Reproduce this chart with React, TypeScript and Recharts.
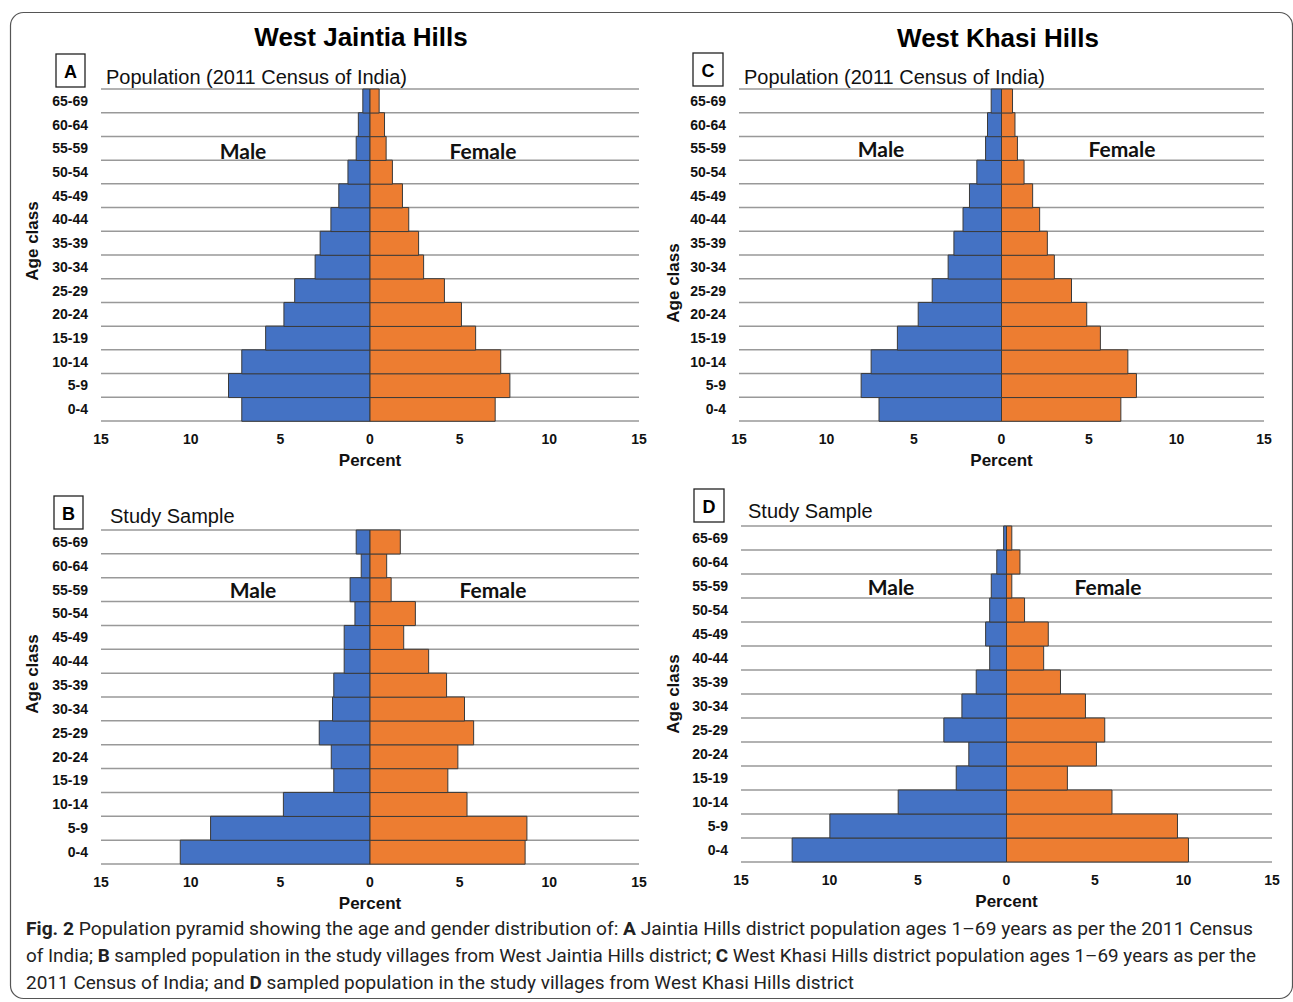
import React from "react";
import { Bar, BarChart, CartesianGrid, Label, XAxis, YAxis } from "recharts";

const ageGroups = ["0-4", "5-9", "10-14", "15-19", "20-24", "25-29", "30-34", "35-39", "40-44", "45-49", "50-54", "55-59", "60-64", "65-69"];
const percentTicks = [-15, -10, -5, 0, 5, 10, 15];

// A - West Jaintia Hills, 2011 census
const jaintiaCensusMale = [7.15, 7.89, 7.15, 5.82, 4.8, 4.2, 3.06, 2.78, 2.18, 1.74, 1.23, 0.77, 0.65, 0.4];
const jaintiaCensusFemale = [6.98, 7.8, 7.29, 5.89, 5.1, 4.15, 2.99, 2.71, 2.16, 1.81, 1.25, 0.9, 0.81, 0.51];
// B - West Jaintia Hills, study sample
const jaintiaSampleMale = [10.58, 8.89, 4.83, 2.02, 2.16, 2.83, 2.09, 2.02, 1.44, 1.44, 0.84, 1.11, 0.49, 0.77];
const jaintiaSampleFemale = [8.65, 8.75, 5.41, 4.34, 4.9, 5.78, 5.27, 4.27, 3.27, 1.88, 2.53, 1.18, 0.93, 1.69];
// C - West Khasi Hills, 2011 census
const khasiCensusMale = [7.0, 8.02, 7.45, 5.95, 4.76, 3.96, 3.05, 2.72, 2.2, 1.83, 1.41, 0.91, 0.8, 0.59];
const khasiCensusFemale = [6.82, 7.71, 7.22, 5.65, 4.87, 4.0, 3.02, 2.62, 2.18, 1.78, 1.29, 0.91, 0.77, 0.63];
// D - West Khasi Hills, study sample
const khasiSampleMale = [12.11, 9.98, 6.12, 2.84, 2.13, 3.54, 2.52, 1.71, 0.95, 1.18, 0.95, 0.86, 0.55, 0.16];
const khasiSampleFemale = [10.28, 9.66, 5.96, 3.44, 5.08, 5.55, 4.46, 3.05, 2.1, 2.36, 1.02, 0.3, 0.76, 0.3];

const BLUE = "#4472C4";
const ORANGE = "#ED7D31";
const AXIS_FONT = "'Liberation Sans', Arial, sans-serif";

function Pyramid({ male, female, left, top, width, height, ageX, ageDy }: any) {
  const rows = ageGroups.map((age, i) => ({ age, male: -male[i], female: female[i] }));
  const bands = (p: any) => {
    const o = p.offset;
    return Array.from({ length: ageGroups.length + 1 }, (_, i) => o.top + (i * o.height) / ageGroups.length);
  };
  return (
    <div style={{ position: "absolute", left, top }}>
      <BarChart
        width={width}
        height={height}
        data={rows}
        layout="vertical"
        stackOffset="sign"
        barCategoryGap={0}
        margin={{ top: 29, right: 10, bottom: 0, left: 0 }}
      >
        <CartesianGrid vertical={false} stroke="#999" strokeWidth={1.5} horizontalCoordinatesGenerator={bands} />
        <XAxis
          type="number"
          domain={[-15, 15]}
          ticks={percentTicks}
          tickFormatter={(v: number) => String(Math.abs(v))}
          axisLine={false}
          tickLine={false}
          tickMargin={7}
          height={52}
          tick={{ fill: "#111", fontSize: 14, fontWeight: 700, fontFamily: AXIS_FONT }}
        >
          <Label value="Percent" position="insideBottom" offset={7} style={{ fill: "#111", fontSize: 17, fontWeight: 700, fontFamily: AXIS_FONT }} />
        </XAxis>
        <YAxis
          type="category"
          dataKey="age"
          reversed
          interval={0}
          width={101}
          axisLine={false}
          tickLine={false}
          tickMargin={7}
          tick={{ fill: "#111", fontSize: 14, fontWeight: 700, fontFamily: AXIS_FONT }}
        >
          <Label
            content={(p: any) => {
              const vb = p.viewBox;
              const cx = vb.x + ageX;
              const cy = vb.y + vb.height / 2 + ageDy;
              return (
                <text x={cx} y={cy} transform={`rotate(-90 ${cx} ${cy})`} textAnchor="middle" dominantBaseline="central"
                  style={{ fill: "#111", fontSize: 17, fontWeight: 700, fontFamily: AXIS_FONT }}>
                  Age class
                </text>
              );
            }}
          />
        </YAxis>
        <Bar dataKey="male" stackId="p" fill={BLUE} stroke="#3a3a3a" strokeWidth={1} isAnimationActive={false} />
        <Bar dataKey="female" stackId="p" fill={ORANGE} stroke="#3a3a3a" strokeWidth={1} isAnimationActive={false} />
      </BarChart>
    </div>
  );
}

function PanelText({ letter, bx, by, bw, bh, sub, sx, sy, mx, fx, gy }: any) {
  return (
    <g>
      <rect x={bx} y={by} width={bw} height={bh} fill="#fff" stroke="#222" strokeWidth={1.3} />
      <text x={bx + bw / 2} y={by + bh / 2 + 1} textAnchor="middle" dominantBaseline="central" fontSize={18} fontWeight={700} fontFamily={AXIS_FONT}>{letter}</text>
      <text x={sx} y={sy} dominantBaseline="central" fontSize={20} fontFamily={AXIS_FONT} fill="#111">{sub}</text>
      <text x={mx} y={gy} textAnchor="middle" dominantBaseline="central" fontSize={21} fontWeight={700} fontFamily="Lato, 'Open Sans', sans-serif" fill="#111">Male</text>
      <text x={fx} y={gy} textAnchor="middle" dominantBaseline="central" fontSize={21} fontWeight={700} fontFamily="Lato, 'Open Sans', sans-serif" fill="#111">Female</text>
    </g>
  );
}

const CAP_FONT = "'Liberation Sans Narrow', 'Roboto', sans-serif";

export default function App() {
  return (
    <div style={{ position: "absolute", left: 0, top: 0, width: 1293, height: 1002, background: "#fff", overflow: "hidden" }}>
      <Pyramid male={jaintiaCensusMale} female={jaintiaCensusFemale} left={0} top={60} width={649} height={413} ageX={32} ageDy={-14} />
      <Pyramid male={khasiCensusMale} female={khasiCensusFemale} left={638} top={60} width={636} height={413} ageX={35} ageDy={28} />
      <Pyramid male={jaintiaSampleMale} female={jaintiaSampleFemale} left={0} top={501} width={649} height={415} ageX={32} ageDy={-23} />
      <Pyramid male={khasiSampleMale} female={khasiSampleFemale} left={640} top={497} width={642} height={417} ageX={33} ageDy={0} />
      <svg width={1293} height={1002} style={{ position: "absolute", left: 0, top: 0, pointerEvents: "none" }}>
        <rect x={10.5} y={12.5} width={1282} height={986} rx={13} fill="none" stroke="#555" strokeWidth={1.2} />
        <text x={361} y={37} textAnchor="middle" dominantBaseline="central" fontSize={26} fontWeight={700} fontFamily={AXIS_FONT}>West Jaintia Hills</text>
        <text x={998} y={38} textAnchor="middle" dominantBaseline="central" fontSize={26} fontWeight={700} fontFamily={AXIS_FONT}>West Khasi Hills</text>
        <PanelText letter="A" bx={56} by={54} bw={29} bh={33} sub="Population (2011 Census of India)" sx={106} sy={77} mx={243} fx={483} gy={150} />
        <PanelText letter="C" bx={693} by={53} bw={30} bh={33} sub="Population (2011 Census of India)" sx={744} sy={77} mx={881} fx={1122} gy={148} />
        <PanelText letter="B" bx={54} by={496} bw={29} bh={33} sub="Study Sample" sx={110} sy={516} mx={253} fx={493} gy={589} />
        <PanelText letter="D" bx={694} by={489} bw={30} bh={33} sub="Study Sample" sx={748} sy={511} mx={891} fx={1108} gy={586} />
        <g fontFamily={CAP_FONT} fontSize={19} fill="#222">
          <text x={26} y={935} textLength={1227} lengthAdjust="spacingAndGlyphs">
            <tspan fontWeight={700}>Fig. 2</tspan>{"  Population pyramid showing the age and gender distribution of: "}
            <tspan fontWeight={700}>A</tspan>{" Jaintia Hills district population ages 1–69 years as per the 2011 Census"}
          </text>
          <text x={26} y={962} textLength={1230} lengthAdjust="spacingAndGlyphs">
            {"of India; "}<tspan fontWeight={700}>B</tspan>{" sampled population in the study villages from West Jaintia Hills district; "}
            <tspan fontWeight={700}>C</tspan>{" West Khasi Hills district population ages 1–69 years as per the"}
          </text>
          <text x={26} y={989} textLength={828} lengthAdjust="spacingAndGlyphs">
            {"2011 Census of India; and "}<tspan fontWeight={700}>D</tspan>{" sampled population in the study villages from West Khasi Hills district"}
          </text>
        </g>
      </svg>
    </div>
  );
}
